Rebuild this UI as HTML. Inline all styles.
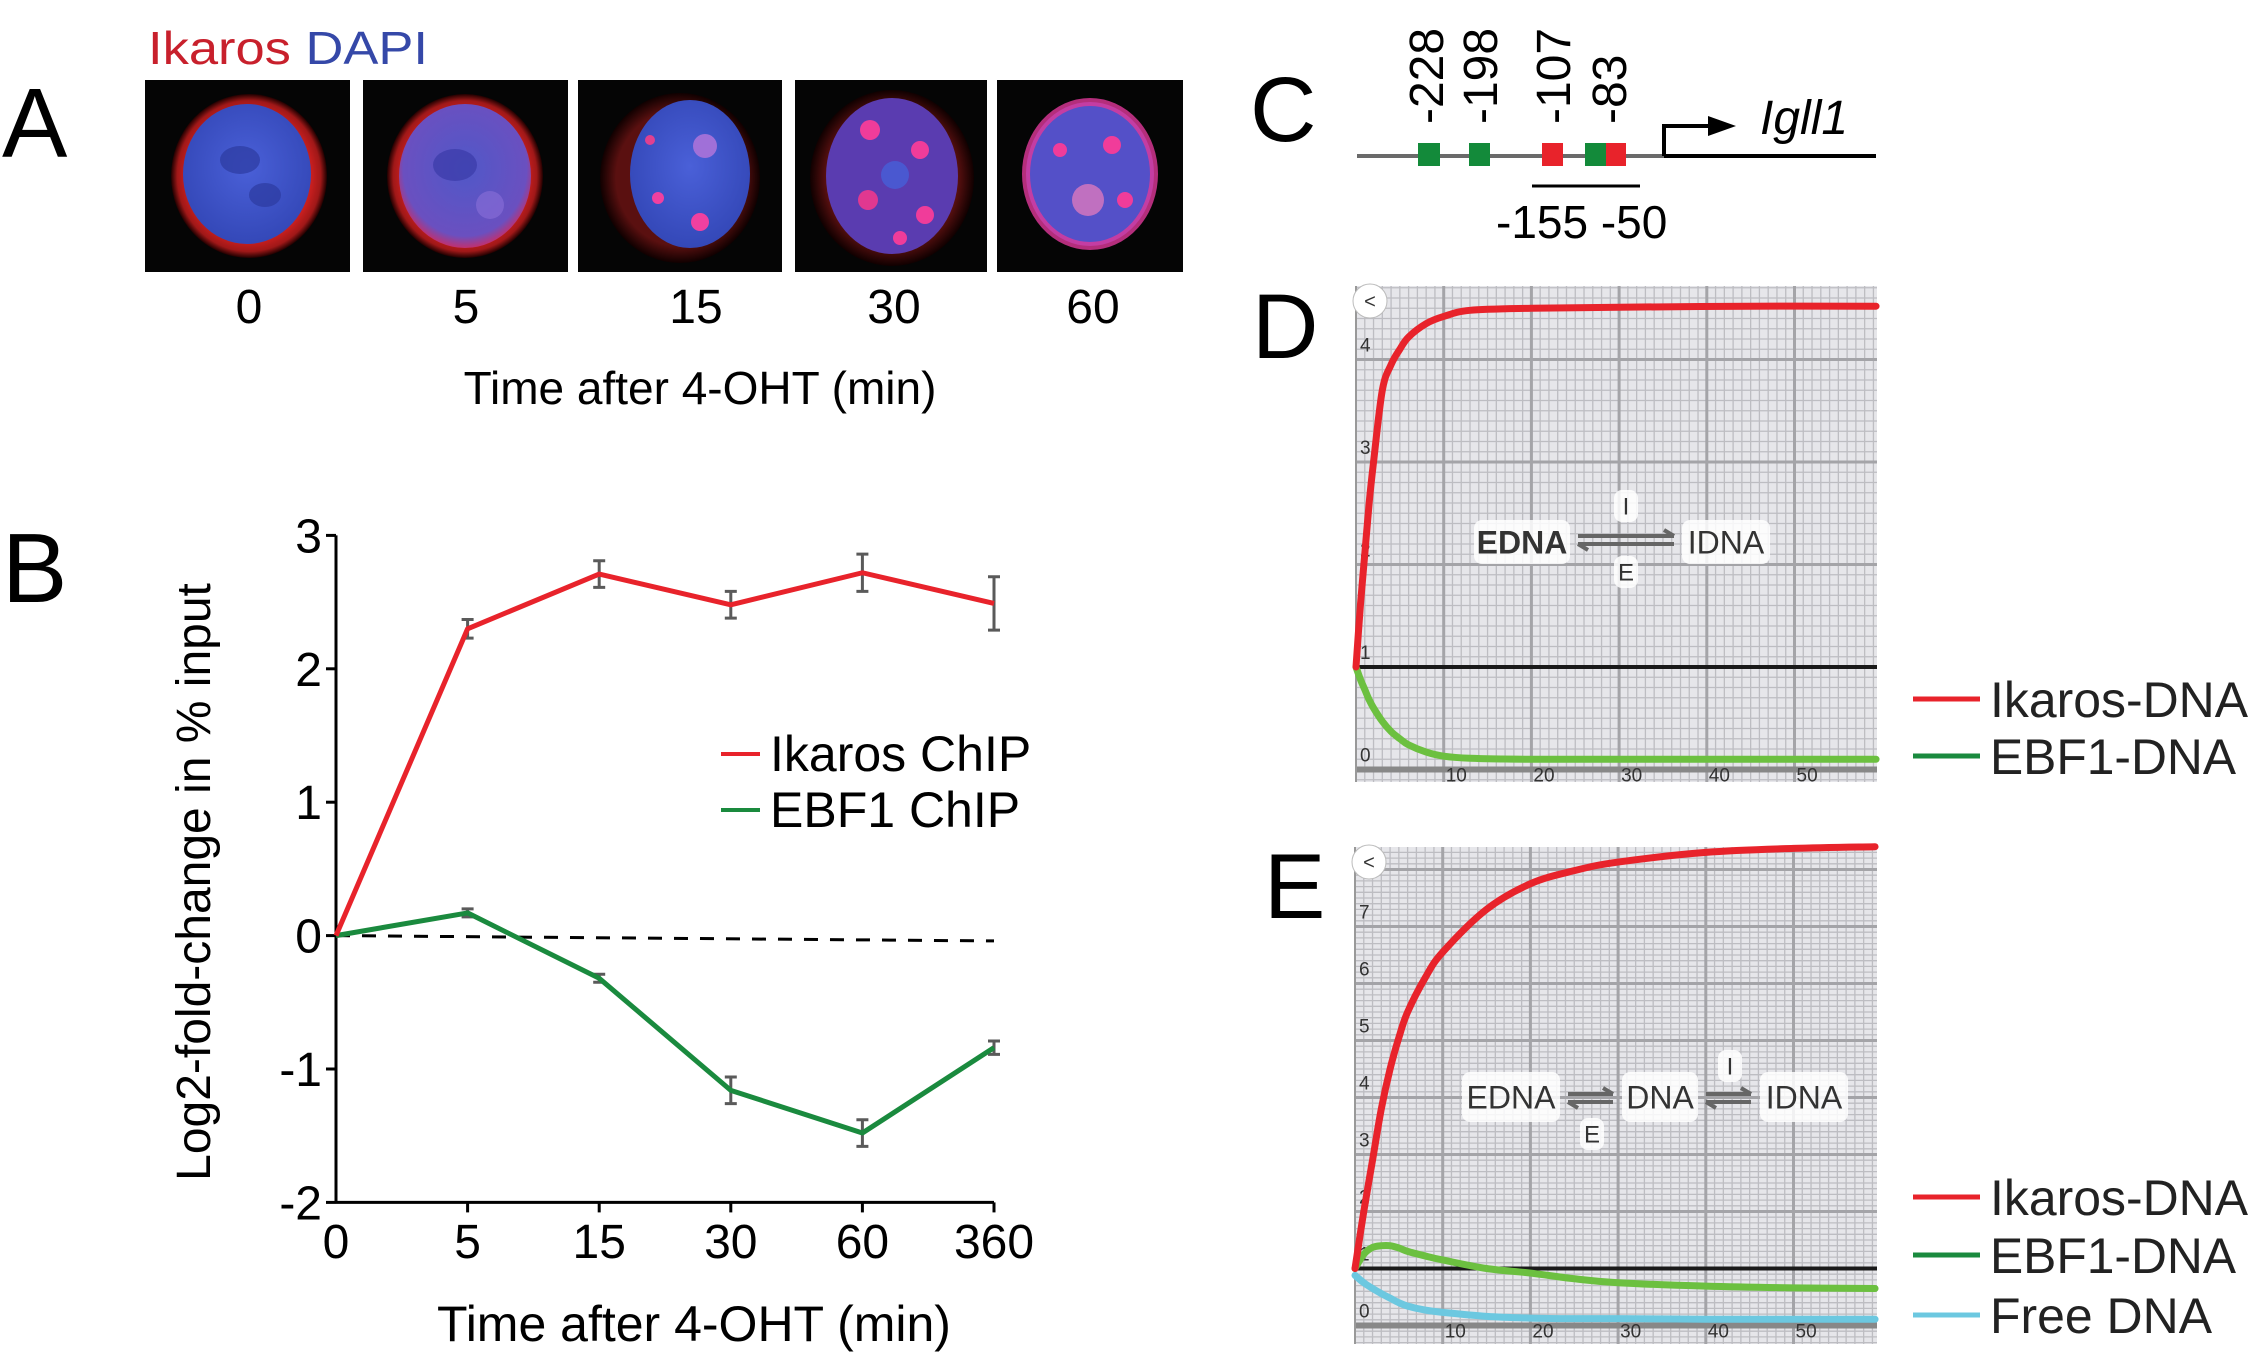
<!DOCTYPE html>
<html><head><meta charset="utf-8"><title>Ikaros EBF1 figure</title>
<style>
html,body{margin:0;padding:0;background:#fff;}
svg{display:block;font-family:"Liberation Sans",Arial,sans-serif;}
</style></head>
<body>
<svg id="fig" width="2249" height="1372" viewBox="0 0 2249 1372" xmlns="http://www.w3.org/2000/svg">
<defs>
  <radialGradient id="ringRed" cx="50%" cy="50%" r="50%">
    <stop offset="0.78" stop-color="#d02020"/><stop offset="0.92" stop-color="#a01818"/><stop offset="1" stop-color="#200000"/>
  </radialGradient>
  <radialGradient id="ringFaint" cx="50%" cy="50%" r="50%">
    <stop offset="0.8" stop-color="#5a1010"/><stop offset="1" stop-color="#100000"/>
  </radialGradient>
  <radialGradient id="nucBlue" cx="50%" cy="45%" r="55%">
    <stop offset="0" stop-color="#4a60d8"/><stop offset="1" stop-color="#3448b8"/>
  </radialGradient>
  <radialGradient id="nucMix" cx="50%" cy="45%" r="55%">
    <stop offset="0" stop-color="#5058c8"/><stop offset="0.85" stop-color="#6a50c0"/><stop offset="1" stop-color="#c03070"/>
  </radialGradient>
</defs>

<!-- Panel A -->
<text x="2" y="157" font-size="98">A</text>
<text x="148" y="64" font-size="46" textLength="280" lengthAdjust="spacingAndGlyphs"><tspan fill="#c8202c">Ikaros</tspan> <tspan fill="#3548a8">DAPI</tspan></text>

<g>
  <rect x="145" y="80" width="205" height="192" fill="#050505"/>
  <ellipse cx="249" cy="176" rx="78" ry="82" fill="url(#ringRed)"/>
  <ellipse cx="247" cy="174" rx="64" ry="70" fill="url(#nucBlue)"/>
  <ellipse cx="240" cy="160" rx="20" ry="14" fill="#2c3aa0" opacity="0.7"/>
  <ellipse cx="265" cy="195" rx="16" ry="12" fill="#2c3aa0" opacity="0.7"/>
</g>
<g>
  <rect x="363" y="80" width="205" height="192" fill="#050505"/>
  <ellipse cx="465" cy="176" rx="78" ry="82" fill="url(#ringRed)"/>
  <ellipse cx="465" cy="176" rx="66" ry="72" fill="url(#nucMix)"/>
  <ellipse cx="455" cy="165" rx="22" ry="16" fill="#3a3aa8" opacity="0.7"/>
  <ellipse cx="490" cy="205" rx="14" ry="14" fill="#8a70d8" opacity="0.6"/>
</g>
<g>
  <rect x="578" y="80" width="204" height="192" fill="#050505"/>
  <ellipse cx="680" cy="178" rx="80" ry="85" fill="url(#ringFaint)"/>
  <ellipse cx="690" cy="174" rx="60" ry="74" fill="url(#nucBlue)"/>
  <circle cx="705" cy="146" r="12" fill="#a070d8"/>
  <circle cx="700" cy="222" r="9" fill="#f040a0"/>
  <circle cx="658" cy="198" r="6" fill="#f040a0"/>
  <circle cx="650" cy="140" r="5" fill="#e04090"/>
</g>
<g>
  <rect x="795" y="80" width="192" height="192" fill="#050505"/>
  <ellipse cx="892" cy="178" rx="82" ry="88" fill="url(#ringFaint)"/>
  <ellipse cx="892" cy="176" rx="66" ry="78" fill="#5a3cb0"/>
  <circle cx="870" cy="130" r="10" fill="#f03c9a"/>
  <circle cx="920" cy="150" r="9" fill="#f03c9a"/>
  <circle cx="868" cy="200" r="10" fill="#e03890"/>
  <circle cx="925" cy="215" r="9" fill="#f03c9a"/>
  <circle cx="895" cy="175" r="14" fill="#4a58d0"/>
  <circle cx="900" cy="238" r="7" fill="#f03c9a"/>
</g>
<g>
  <rect x="997" y="80" width="186" height="192" fill="#050505"/>
  <ellipse cx="1090" cy="174" rx="64" ry="72" fill="#5450c8"/>
  <ellipse cx="1090" cy="174" rx="64" ry="72" fill="none" stroke="#e0389a" stroke-width="8" opacity="0.8"/>
  <circle cx="1088" cy="200" r="16" fill="#c070c0"/>
  <circle cx="1112" cy="145" r="9" fill="#f03c9a"/>
  <circle cx="1125" cy="200" r="8" fill="#f03c9a"/>
  <circle cx="1060" cy="150" r="7" fill="#f03c9a"/>
</g>
<g font-size="48" text-anchor="middle">
  <text x="249" y="323">0</text><text x="466" y="323">5</text><text x="696" y="323">15</text><text x="894" y="323">30</text><text x="1093" y="323">60</text>
</g>
<text x="700" y="404" font-size="46" text-anchor="middle">Time after 4-OHT (min)</text>

<!-- Panel B -->
<text x="2" y="602" font-size="98">B</text>
<g id="chartB"></g>
<text transform="translate(210,882) rotate(-90)" font-size="48" text-anchor="middle">Log2-fold-change in % input</text>
<text x="694" y="1341" font-size="50" text-anchor="middle">Time after 4-OHT (min)</text>
<g>
  <line x1="721" y1="754" x2="760" y2="754" stroke="#e8232b" stroke-width="4"/>
  <text x="770" y="771" font-size="50">Ikaros ChIP</text>
  <line x1="721" y1="810" x2="760" y2="810" stroke="#1a8a3e" stroke-width="4"/>
  <text x="770" y="827" font-size="50">EBF1 ChIP</text>
</g>

<!-- Panel C -->
<text x="1250" y="141" font-size="92">C</text>
<g>
  <line x1="1357" y1="156" x2="1664" y2="156" stroke="#6a6a6a" stroke-width="4"/>
  <line x1="1664" y1="156" x2="1876" y2="156" stroke="#000" stroke-width="4"/>
  <polyline points="1664,156 1664,126 1712,126" fill="none" stroke="#000" stroke-width="4"/>
  <polygon points="1708,116 1736,126 1708,136" fill="#000"/>
  <rect x="1418" y="143" width="22" height="23" fill="#138a3a"/>
  <rect x="1469" y="143" width="21" height="23" fill="#138a3a"/>
  <rect x="1542" y="143" width="21" height="23" fill="#e8232b"/>
  <rect x="1585" y="143" width="21" height="23" fill="#138a3a"/>
  <rect x="1606" y="143" width="20" height="23" fill="#e8232b"/>
  <line x1="1532" y1="186" x2="1640" y2="186" stroke="#000" stroke-width="3"/>
  <g font-size="48">
    <text transform="translate(1443,124) rotate(-90)">-228</text>
    <text transform="translate(1497,124) rotate(-90)">-198</text>
    <text transform="translate(1570,124) rotate(-90)">-107</text>
    <text transform="translate(1626,124) rotate(-90)">-83</text>
  </g>
  <text x="1760" y="134" font-size="48" font-style="italic">Igll1</text>
  <text x="1496" y="238" font-size="46">-155 -50</text>
</g>

<!-- Panel D -->
<text x="1252" y="358" font-size="92">D</text>
<g id="chartD"></g>
<g>
  <line x1="1913" y1="699" x2="1980" y2="699" stroke="#e8232b" stroke-width="5"/>
  <text x="1990" y="717" font-size="50" textLength="258" lengthAdjust="spacingAndGlyphs" fill="#222">Ikaros-DNA</text>
  <line x1="1913" y1="756" x2="1980" y2="756" stroke="#1a8a3e" stroke-width="5"/>
  <text x="1990" y="774" font-size="50" textLength="246" lengthAdjust="spacingAndGlyphs" fill="#222">EBF1-DNA</text>
</g>

<!-- Panel E -->
<text x="1264" y="918" font-size="92">E</text>
<g id="chartE"></g>
<g>
  <line x1="1913" y1="1197" x2="1980" y2="1197" stroke="#e8232b" stroke-width="5"/>
  <text x="1990" y="1215" font-size="50" textLength="258" lengthAdjust="spacingAndGlyphs" fill="#222">Ikaros-DNA</text>
  <line x1="1913" y1="1255" x2="1980" y2="1255" stroke="#1a8a3e" stroke-width="5"/>
  <text x="1990" y="1273" font-size="50" textLength="246" lengthAdjust="spacingAndGlyphs" fill="#222">EBF1-DNA</text>
  <line x1="1913" y1="1315" x2="1980" y2="1315" stroke="#6cc8e0" stroke-width="5"/>
  <text x="1990" y="1333" font-size="50" textLength="222" lengthAdjust="spacingAndGlyphs" fill="#222">Free DNA</text>
</g>
</svg>

<script>
// ---------- Chart B data ----------
const bCategories = ["0", "5", "15", "30", "60", "360"];
const bTicks = [3, 2, 1, 0, -1, -2];
const ikarosValues = [0, 2.30, 2.71, 2.48, 2.72, 2.49];
const ikarosErr = [0, 0.07, 0.10, 0.10, 0.14, 0.20];
const ebf1Values = [0, 0.17, -0.32, -1.16, -1.48, -0.84];
const ebf1Err = [0, 0.03, 0.03, 0.10, 0.10, 0.05];
const baselineValues = [0, -0.04];

// ---------- Chart D data ----------
const dTime = [0, 0.5, 1, 1.5, 2, 3, 4, 5, 6, 8, 10, 13, 20, 30, 45, 59.3];
const dIkaros = [1, 1.6, 2.1, 2.6, 3.0, 3.7, 3.95, 4.1, 4.22, 4.35, 4.42, 4.48, 4.5, 4.51, 4.52, 4.52];
const dEbf1 = [1, 0.88, 0.78, 0.68, 0.6, 0.47, 0.37, 0.3, 0.24, 0.17, 0.13, 0.11, 0.1, 0.1, 0.1, 0.1];
const dYTicks = [0, 1, 2, 3, 4];

// ---------- Chart E data ----------
const eTime = [0, 1, 2, 3, 4, 5, 6, 8, 10, 15, 20, 25, 30, 40, 50, 59.3];
const eIkaros = [1, 2.0, 2.9, 3.8, 4.5, 5.05, 5.5, 6.1, 6.55, 7.3, 7.75, 7.98, 8.13, 8.3, 8.37, 8.4];
const eEbf1 = [1, 1.25, 1.37, 1.4, 1.4, 1.36, 1.3, 1.22, 1.15, 1.0, 0.92, 0.82, 0.75, 0.69, 0.66, 0.65];
const eFree = [0.88, 0.75, 0.65, 0.56, 0.48, 0.4, 0.34, 0.27, 0.23, 0.16, 0.13, 0.12, 0.12, 0.11, 0.11, 0.11];
const eYTicks = [0, 1, 2, 3, 4, 5, 6, 7];
const simXTicks = [10, 20, 30, 40, 50];

const NS = "http://www.w3.org/2000/svg";
function mk(tag, attrs, parent) {
  const e = document.createElementNS(NS, tag);
  for (const k in attrs) e.setAttribute(k, attrs[k]);
  parent.appendChild(e);
  return e;
}

// ---------- Draw chart B ----------
(function () {
  const g = document.getElementById("chartB");
  const x0 = 336, xStep = 131.6, yZero = 935.6, yUnit = 133.4;
  const bx = i => x0 + i * xStep;
  const by = v => yZero - v * yUnit;
  const yAxis = mk("line", {x1: x0, y1: by(3), x2: x0, y2: by(-2), stroke: "#000", "stroke-width": 3}, g);
  
  
  const xAxis = mk("line", {x1: x0, y1: by(-2), x2: bx(bCategories.length - 1), y2: by(-2), stroke: "#000", "stroke-width": 3}, g);
  
  
  bTicks.forEach(t => {
    mk("line", {x1: x0 - 10, y1: by(t), x2: x0, y2: by(t), stroke: "#000", "stroke-width": 3}, g);
    const tx = mk("text", {x: x0 - 14, y: by(t) + 17, "font-size": 48, "text-anchor": "end"}, g);
    tx.textContent = t;
    
    
  });
  bCategories.forEach((c, i) => {
    if (i > 0) mk("line", {x1: bx(i), y1: by(-2), x2: bx(i), y2: by(-2) + 10, stroke: "#000", "stroke-width": 3}, g);
    const tx = mk("text", {x: bx(i), y: 1258, "font-size": 48, "text-anchor": "middle"}, g);
    tx.textContent = c;
    
    
  });
  const base = mk("line", {x1: bx(0), y1: by(baselineValues[0]), x2: bx(bCategories.length - 1), y2: by(baselineValues[1]), stroke: "#000", "stroke-width": 3, "stroke-dasharray": "14 12"}, g);
  
  
  function series(vals, errs, color, name) {
    vals.forEach((v, i) => {
      if (errs[i] > 0) {
        const eb = mk("path", {d: `M${bx(i)},${by(v + errs[i])}V${by(v - errs[i])}M${bx(i) - 6},${by(v + errs[i])}h12M${bx(i) - 6},${by(v - errs[i])}h12`, stroke: "#5a5a5a", "stroke-width": 3, fill: "none"}, g);
        
        
      }
    });
    const pl = mk("polyline", {points: vals.map((v, i) => bx(i) + "," + by(v)).join(" "), fill: "none", stroke: color, "stroke-width": 5, "stroke-linejoin": "round"}, g);
    
    
  }
  series(ebf1Values, ebf1Err, "#1a8a3e", "ebf1");
  series(ikarosValues, ikarosErr, "#e8232b", "ikaros");
})();

// ---------- Simulation charts ----------
function simChart(id, box, yMax, yTicks, time, seriesList, scheme) {
  const g = document.getElementById(id);
  const {left, right, top, bottom, y0, yUnit} = box;
  const sx = t => left + t * 8.77;
  const sy = v => y0 - v * yUnit;
  const bg = mk("rect", {x: left, y: top, width: right - left, height: bottom - top, fill: "#e6e6ea"}, g);
  
  
  let d = "";
  for (let t = 1; sx(t) < right; t++) if (t % 10) d += `M${sx(t)},${top}V${bottom}`;
  for (let k = -3; sy(k / 10) > top; k++) if (k % 10 && sy(k / 10) < bottom) d += `M${left},${sy(k / 10)}H${right}`;
  mk("path", {d, stroke: "#bdbdc2", "stroke-width": 1.3, fill: "none"}, g);
  let dm = "";
  for (let t = 10; sx(t) < right; t += 10) dm += `M${sx(t)},${top}V${bottom}`;
  for (let v = 2; sy(v) > top; v++) dm += `M${left},${sy(v)}H${right}`;
  mk("path", {d: dm, stroke: "#a4a4a8", "stroke-width": 3, fill: "none"}, g);
  mk("line", {x1: left, y1: sy(0), x2: right, y2: sy(0), stroke: "#888", "stroke-width": 6}, g);
  mk("line", {x1: left, y1: top, x2: left, y2: bottom, stroke: "#999", "stroke-width": 2}, g);
  const oneLine = mk("line", {x1: left, y1: sy(1), x2: right, y2: sy(1), stroke: "#1a1a1a", "stroke-width": 4}, g);
  
  
  yTicks.forEach(v => {
    const tx = mk("text", {x: left + 4, y: sy(v) - 8, "font-size": 19, fill: "#333"}, g);
    tx.textContent = v;
    
    
  });
  simXTicks.forEach(t => {
    const tx = mk("text", {x: sx(t) + 2, y: sy(0) + 12, "font-size": 19, fill: "#333"}, g);
    tx.textContent = t;
    
    
  });
  seriesList.forEach(s => {
    const pts = s.vals.map((v, i) => [sx(time[i]), sy(v)]);
    let p = `M${pts[0][0]},${pts[0][1]}`;
    for (let i = 0; i < pts.length - 1; i++) {
      const a = pts[Math.max(i - 1, 0)], b = pts[i], c = pts[i + 1], e = pts[Math.min(i + 2, pts.length - 1)];
      const c1 = [b[0] + (c[0] - a[0]) / 6, b[1] + (c[1] - a[1]) / 6];
      const c2 = [c[0] - (e[0] - b[0]) / 6, c[1] - (e[1] - b[1]) / 6];
      p += `C${c1[0]},${c1[1]} ${c2[0]},${c2[1]} ${c[0]},${c[1]}`;
    }
    const path = mk("path", {d: p, fill: "none", stroke: s.color, "stroke-width": 7, "stroke-linecap": "round"}, g);
    
    
  });
  const btn = mk("circle", {cx: left + 14, cy: top + 15, r: 17, fill: "#fff", stroke: "#bbb", "stroke-width": 1}, g);
  
  
  const bt = mk("text", {x: left + 14, y: top + 22, "font-size": 20, "text-anchor": "middle", fill: "#333"}, g);
  bt.textContent = "<";
  scheme(g);
}
function label(g, x, y, w, h, txt, size, bold, name) {
  mk("rect", {x, y, width: w, height: h, rx: 8, fill: "#fff", opacity: 0.85}, g);
  const t = mk("text", {x: x + w / 2, y: y + h / 2 + size * 0.36, "font-size": size, "text-anchor": "middle", fill: "#333", "font-weight": bold ? "bold" : "normal"}, g);
  t.textContent = txt;
  
  
}
function arrows(g, x1, x2, y) {
  mk("path", {d: `M${x1},${y - 4}H${x2}M${x2 - 10},${y - 10}L${x2},${y - 4}M${x1},${y + 4}H${x2}M${x1 + 10},${y + 10}L${x1},${y + 4}`, stroke: "#666", "stroke-width": 4, fill: "none"}, g);
}

simChart("chartD", {left: 1356, right: 1877, top: 286, bottom: 782, y0: 769.5, yUnit: 102.5}, 4.7, dYTicks, dTime,
  [{vals: dEbf1, color: "#6cc040", name: "ebf1-dna-curve"}, {vals: dIkaros, color: "#e8232b", name: "ikaros-dna-curve"}],
  g => {
    label(g, 1474, 520, 96, 44, "EDNA", 32, true, "scheme-edna");
    label(g, 1682, 520, 88, 44, "IDNA", 32, false, "scheme-idna");
    arrows(g, 1578, 1674, 540);
    label(g, 1614, 490, 24, 32, "I", 24, false, "scheme-i");
    label(g, 1614, 556, 24, 32, "E", 24, false, "scheme-e");
  });

simChart("chartE", {left: 1355, right: 1877, top: 847, bottom: 1344, y0: 1325.5, yUnit: 57}, 8.5, eYTicks, eTime,
  [{vals: eFree, color: "#6cc8e0", name: "free-dna-curve"}, {vals: eEbf1, color: "#6cc040", name: "ebf1-dna-curve"}, {vals: eIkaros, color: "#e8232b", name: "ikaros-dna-curve"}],
  g => {
    label(g, 1462, 1072, 98, 50, "EDNA", 32, false, "scheme-edna");
    label(g, 1622, 1072, 76, 50, "DNA", 32, false, "scheme-dna");
    label(g, 1760, 1072, 88, 50, "IDNA", 32, false, "scheme-idna");
    arrows(g, 1568, 1613, 1098);
    arrows(g, 1706, 1751, 1098);
    label(g, 1718, 1050, 24, 32, "I", 24, false, "scheme-i");
    label(g, 1580, 1118, 24, 32, "E", 24, false, "scheme-e");
  });
</script>
</body></html>
